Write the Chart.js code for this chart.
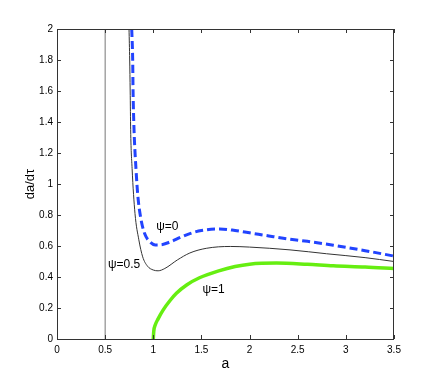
<!DOCTYPE html>
<html>
<head>
<meta charset="utf-8">
<script src="https://cdn.jsdelivr.net/npm/chart.js@4"></script>
<style>
  body { margin: 0; background: #fff; }
  canvas { display: block; }
</style>
</head>
<body>
<canvas id="rate" width="436" height="382"></canvas>
<script>
// a values and da/dtau
const psi0A = [0.776, 0.786, 0.79, 0.80, 0.82, 0.84, 0.87, 0.91, 0.96, 1.02, 1.08, 1.17, 1.28, 1.38, 1.5, 1.69, 1.85, 2.0, 2.2, 2.35, 2.6, 2.87, 3.2, 3.5];
const psi0V = [2.0, 1.8, 1.6, 1.35, 1.1, 0.92, 0.78, 0.68, 0.63, 0.607, 0.608, 0.625, 0.655, 0.68, 0.70, 0.71, 0.70, 0.685, 0.665, 0.65, 0.63, 0.605, 0.57, 0.535];

const psi05A = [0.748, 0.755, 0.76, 0.765, 0.78, 0.81, 0.85, 0.89, 0.94, 1.0, 1.05, 1.12, 1.25, 1.38, 1.55, 1.8, 2.0, 2.42, 2.8, 3.2, 3.5];
const psi05V = [2.0, 1.8, 1.6, 1.35, 1.1, 0.81, 0.64, 0.53, 0.47, 0.445, 0.44, 0.455, 0.51, 0.555, 0.585, 0.597, 0.593, 0.575, 0.55, 0.525, 0.50];

const psi1A = [1.0, 1.005, 1.02, 1.05, 1.1, 1.17, 1.24, 1.35, 1.48, 1.68, 1.85, 2.0, 2.28, 2.6, 2.87, 3.2, 3.5];
const psi1V = [0, 0.05, 0.09, 0.13, 0.185, 0.245, 0.295, 0.35, 0.395, 0.44, 0.468, 0.483, 0.49, 0.482, 0.472, 0.465, 0.455];

const limitA = [0.5, 0.5];
const limitV = [0, 2];

const curveLabels = [
  { text: 'ψ=0', a: 1.03, v: 0.723 },
  { text: 'ψ=0.5', a: 0.53, v: 0.477 },
  { text: 'ψ=1', a: 1.51, v: 0.316 }
];

function pts(xs, ys) {
  return xs.map((x, i) => ({ x: x, y: ys[i] }));
}

const tickFont = { family: 'Liberation Sans, Arial, sans-serif', size: 10 };

// matlab style box with inward ticks on all four sides
const boxPlugin = {
  id: 'box',
  afterDraw(chart) {
    const { ctx, chartArea: ca, scales } = chart;
    ctx.save();
    ctx.strokeStyle = '#333';
    ctx.lineWidth = 1;
    ctx.strokeRect(ca.left + 0.5, ca.top + 0.5, ca.right - ca.left - 1, ca.bottom - ca.top);
    ctx.beginPath();
    scales.x.ticks.forEach(t => {
      const px = Math.round(scales.x.getPixelForValue(t.value)) + 0.5;
      ctx.moveTo(px, ca.bottom); ctx.lineTo(px, ca.bottom - 4);
      ctx.moveTo(px, ca.top); ctx.lineTo(px, ca.top + 4);
    });
    scales.y.ticks.forEach(t => {
      const py = Math.round(scales.y.getPixelForValue(t.value)) + 0.5;
      ctx.moveTo(ca.left, py); ctx.lineTo(ca.left + 4, py);
      ctx.moveTo(ca.right, py); ctx.lineTo(ca.right - 4, py);
    });
    ctx.stroke();
    ctx.restore();
  },
  afterDatasetsDraw(chart) {
    const { ctx, scales } = chart;
    ctx.save();
    ctx.fillStyle = '#000';
    ctx.font = '12px Liberation Sans, Arial, sans-serif';
    ctx.textBaseline = 'middle';
    ctx.textAlign = 'left';
    curveLabels.forEach(l => {
      ctx.fillText(l.text, scales.x.getPixelForValue(l.a), scales.y.getPixelForValue(l.v));
    });
    ctx.restore();
  }
};

new Chart(document.getElementById('rate').getContext('2d'), {
  type: 'scatter',
  data: {
    datasets: [
      {
        label: 'a=0.5',
        data: pts(limitA, limitV),
        showLine: true,
        borderColor: '#777',
        borderWidth: 1,
        pointRadius: 0
      },
      {
        label: 'ψ=0.5',
        data: pts(psi05A, psi05V),
        showLine: true,
        borderColor: '#333',
        borderWidth: 1,
        pointRadius: 0,
        cubicInterpolationMode: 'monotone'
      },
      {
        label: 'ψ=1',
        data: pts(psi1A, psi1V),
        showLine: true,
        borderColor: '#66ee11',
        borderWidth: 3.5,
        pointRadius: 0,
        cubicInterpolationMode: 'monotone'
      },
      {
        label: 'ψ=0',
        data: pts(psi0A, psi0V),
        showLine: true,
        borderColor: '#2244ff',
        borderWidth: 3,
        borderDash: [8, 4],
        pointRadius: 0,
        cubicInterpolationMode: 'monotone'
      }
    ]
  },
  options: {
    responsive: false,
    animation: false,
    layout: { padding: { top: 29, right: 42, left: 0, bottom: 0 } },
    plugins: {
      legend: { display: false },
      tooltip: { enabled: false }
    },
    scales: {
      x: {
        type: 'linear',
        min: 0,
        max: 3.5,
        grid: { display: false, drawTicks: false },
        border: { display: false },
        ticks: {
          stepSize: 0.5,
          padding: 5,
          maxRotation: 0,
          color: '#000',
          font: tickFont,
          callback: v => +v.toFixed(1)
        },
        title: {
          display: true,
          text: 'a',
          color: '#000',
          font: { family: 'Liberation Sans, Arial, sans-serif', size: 14 },
          padding: { top: 0, bottom: 9 }
        },
        afterFit(scale) { scale.height = 43; }
      },
      y: {
        type: 'linear',
        min: 0,
        max: 2,
        grid: { display: false, drawTicks: false },
        border: { display: false },
        ticks: {
          stepSize: 0.2,
          padding: 4,
          color: '#000',
          font: tickFont,
          callback: v => +v.toFixed(1)
        },
        title: {
          display: true,
          text: 'da/dτ',
          color: '#000',
          font: { family: 'Liberation Sans, Arial, sans-serif', size: 13 },
          padding: { top: 23, bottom: 0 }
        },
        afterFit(scale) { scale.width = 57; }
      }
    }
  },
  plugins: [boxPlugin]
});
</script>
</body>
</html>
